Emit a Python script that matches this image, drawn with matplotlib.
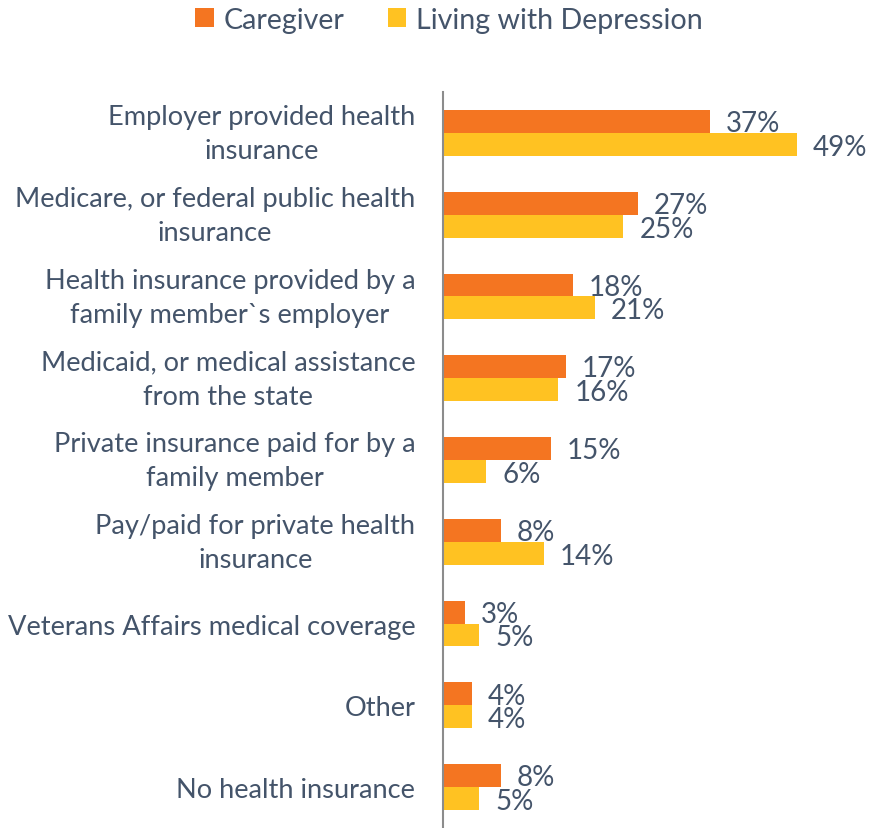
import matplotlib.pyplot as plt
import matplotlib.transforms as mtransforms
import numpy as np

# Data
categories = [
    "Employer provided health\ninsurance",
    "Medicare, or federal public health\ninsurance",
    "Health insurance provided by a\nfamily member`s employer",
    "Medicaid, or medical assistance\nfrom the state",
    "Private insurance paid for by a\nfamily member",
    "Pay/paid for private health\ninsurance",
    "Veterans Affairs medical coverage",
    "Other",
    "No health insurance",
]
caregiver = [37, 27, 18, 17, 15, 8, 3, 4, 8]
depression = [49, 25, 21, 16, 6, 14, 5, 4, 5]
series_names = ["Caregiver", "Living with Depression"]

orange = "#F47521"
yellow = "#FFC222"
text_color = "#44546A"
font = "Lato"

fig = plt.figure(figsize=(8.71, 8.29), dpi=100)
ax = fig.add_axes([443 / 871, 0, 1 - 443 / 871, 1 - 93 / 829])

y = np.arange(len(categories))
h = 0.28
ax.barh(y - h / 2, caregiver, height=h, color=orange, label=series_names[0])
ax.barh(y + h / 2, depression, height=h, color=yellow, label=series_names[1])

# value labels
for yi, v in zip(y, caregiver):
    ax.text(v + 2.2, yi - h / 2 + 0.02, f"{v}%", va="center", ha="left",
            fontsize=20, color=text_color, family=font)
for yi, v in zip(y, depression):
    ax.text(v + 2.2, yi + h / 2 + 0.03, f"{v}%", va="center", ha="left",
            fontsize=20, color=text_color, family=font)

ax.set_xlim(0, 59.3)
ax.set_ylim(len(categories) - 0.5, -0.5)
ax.set_yticks(y)
ax.set_yticklabels(categories, fontsize=19.6, color=text_color, family=font,
                   linespacing=1.45, multialignment="center")
ax.tick_params(axis="y", length=0, pad=20)
# two-line labels sit a bit higher in the original
shift = mtransforms.ScaledTranslation(0, 6 / 100, fig.dpi_scale_trans)
for lab in ax.get_yticklabels():
    if "\n" in lab.get_text():
        lab.set_transform(lab.get_transform() + shift)
ax.set_xticks([])
for s in ["top", "right", "bottom"]:
    ax.spines[s].set_visible(False)
ax.spines["left"].set_color("#8C8C8C")
ax.spines["left"].set_linewidth(1.5)

leg = fig.legend(loc="upper center", bbox_to_anchor=(449 / 871, 1.022), ncol=2,
                 frameon=False, handlelength=0.65, handleheight=0.65,
                 columnspacing=1.5, handletextpad=0.35,
                 prop={"family": font, "size": 20.6})
for t in leg.get_texts():
    t.set_color(text_color)

fig.savefig("out.png", dpi=100)
